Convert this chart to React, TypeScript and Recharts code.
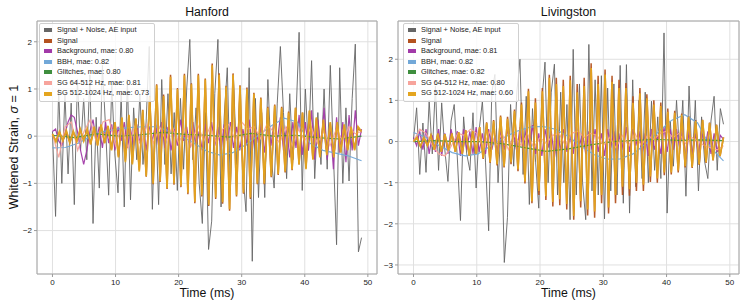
import React from 'react';
import { LineChart, Line, XAxis, YAxis, CartesianGrid, Legend, ReferenceArea } from 'recharts';

// legend labels, one per series, in drawing order
const NAMES_HANFORD = [
  'Signal + Noise, AE input',
  'Signal',
  'Background, mae: 0.80',
  'BBH, mae: 0.82',
  'Glitches, mae: 0.80',
  'SG 64-512 Hz, mae: 0.81',
  'SG 512-1024 Hz, mae: 0.73',
];
const NAMES_LIVINGSTON = [
  'Signal + Noise, AE input',
  'Signal',
  'Background, mae: 0.81',
  'BBH, mae: 0.82',
  'Glitches, mae: 0.82',
  'SG 64-512 Hz, mae: 0.80',
  'SG 512-1024 Hz, mae: 0.60',
];
const COLORS = ['#666666', '#b4521f', '#a23aa8', '#72a8d8', '#3e8e3e', '#f7a49c', '#e4a51f'];
const WIDTHS = [1, 1.5, 1.2, 1.2, 1.2, 1.2, 1.7];

const X_TICKS = [0, 10, 20, 30, 40, 50];
const HANFORD_Y_TICKS = [-2, -1, 0, 1, 2];
const LIVINGSTON_Y_TICKS = [-3, -2, -1, 0, 1, 2];

// every series spans 0..49 ms, evenly sampled
const DURATION_MS = 49;

// ---- Hanford ----
const H_NOISY = [
  0.1, -1.7, 1.0, -1.0, 0.9, -0.8, 0.7, -1.45, 1.2, -0.3,
  0.8, -0.5, 1.3, -1.85, 0.4, -1.1, 1.5, 0.2, -1.25, 1.1,
  -0.4, -1.2, 0.9, -1.5, 1.2, -1.35, 0.6, -0.5, 0.9, -0.6,
  0.3, 1.9, -1.55, 0.6, -1.45, 1.2, -0.6, 0.9, -0.8, 0.5,
  -1.15, 0.8, -0.7, 1.0, 2.05, -0.5, 0.6, -1.0, -1.85, 0.5,
  -2.4, -1.8, 0.9, 2.05, -1.5, 0.4, 1.45, -1.15, 1.2, -0.6,
  0.9, -0.8, -1.6, 1.45, -2.65, 0.8, -1.3, 0.5, -1.3, 1.2,
  -0.4, -1.1, 0.7, 1.9, 0.5, -0.9, 0.9, -0.5, 0.4, 2.2,
  -1.15, 1.0, -0.3, 1.6, -0.9, 0.5, -0.6, 1.0, -0.7, 1.5,
  -0.4, -2.3, 1.45, -1.0, 0.6, -0.95, 0.8, 1.95, -2.45, -2.15,
];
const H_SIGNAL = [
  0.04, -0.1, 0.08, -0.09, 0.1, -0.13, 0.09, -0.1, 0.13, -0.09,
  0.14, -0.16, 0.18, -0.19, 0.23, -0.14, 0.21, -0.28, 0.29, -0.43,
  0.38, -0.52, 0.44, -0.58, 0.37, -0.72, 0.56, -0.86, 0.85, -1.02,
  1.1, -0.97, 0.88, -1.12, 1.3, -1.03, 1.02, -1.08, 1.32, -1.23,
  1.12, -1.42, 1.32, -1.28, 1.22, -1.48, 1.54, -1.33, 1.33, -1.43,
  1.07, -1.58, 1.33, -1.28, 1.08, -1.22, 1.03, -1.33, 0.92, -1.02,
  0.82, -1.02, 0.62, -0.87, 0.67, -0.82, 0.62, -0.77, 0.52, -0.72,
  0.6, -0.6, 0.5, -0.68, 0.53, -0.48, 0.38, -0.43, 0.33, -0.38,
  0.28, -0.42, 0.28, -0.33, 0.23, -0.28, 0.18, -0.28, 0.18, 0.08,
];
const H_BACKGROUND = [
  0.1, 0.15, -0.1, -0.2, 0.05, 0.3, 0.45, 0.4, 0.1, -0.3,
  -0.6, -0.3, 0.1, 0.35, -0.1, 0.2, -0.25, 0.3, -0.15, 0.25,
  -0.3, 0.2, -0.1, 0.3, -0.25, 0.15, -0.2, 0.25, -0.15, 0.3,
  -0.3, 0.2, -0.1, 0.25, -0.2, 0.3, -0.25, 0.2, -0.3, 0.15,
  -0.2, 0.35, -0.1, 0.2, -0.25, 0.3, -0.2, 0.1, -0.3, 0.25,
  -0.15, 0.3, -0.2, 0.2, -0.3, 0.25, -0.1, 0.3, -0.25, 0.2,
  -0.3, 0.15, -0.2, 0.35, -0.3, 0.2, -0.15, 0.3, -0.35, 0.25,
  -0.2, 0.35, -0.1, 0.4, -0.3, 0.2, -0.45, 0.3, -0.25, 0.45,
  -0.4, 0.3, -0.3, 0.55, -0.5, 0.35, -0.3, 0.6, -0.5, 0.2,
  -0.7, 0.4, -0.35, 0.3, -0.55, 0.45, -0.3, 0.55, -0.2, 0.15,
];
const H_BBH = [
  -0.25, -0.24, -0.15, 0.0, 0.1, 0.15, 0.18, 0.2, 0.2, 0.12,
  0.0, -0.15, -0.32, -0.4, -0.35, -0.18, 0.02, 0.22, 0.38, 0.3,
  -0.15, -0.3, -0.36, -0.42, -0.52,
];
const H_GLITCHES = [0.02, -0.03, 0.05, 0.0, 0.03, 0.08, 0.04, 0.02, -0.02, 0.06, 0.0, 0.02, -0.03, -0.06, 0.0];
const H_SG_LOW = [
  0.05, -0.45, 0.2, 0.3, -0.3, 0.1, 0.35, -0.15, 0.3, 0.35,
  -0.2, 0.25, -0.25, 0.2, -0.2, 0.25, -0.15, 0.2, -0.1, 0.2,
  -0.15, 0.15, -0.2, 0.25, -0.1, 0.2, -0.15, 0.15, 0.25, -0.1,
  0.3, 0.15, 0.2, -0.05, 0.25, 0.1, -0.15, 0.2, -0.2, 0.15,
  -0.1, 0.2, -0.15, 0.1, -0.2, 0.15, -0.1, 0.2, 0.05, 0.1,
];
const H_SG_HIGH = [
  0.05, -0.12, 0.1, -0.1, 0.12, -0.15, 0.1, -0.12, 0.15, -0.1,
  0.15, -0.18, 0.2, -0.2, 0.25, -0.15, 0.22, -0.3, 0.3, -0.45,
  0.4, -0.55, 0.45, -0.6, 0.38, -0.75, 0.55, -0.85, 0.83, -1.0,
  1.08, -0.95, 0.85, -1.1, 1.26, -1.0, 1.0, -1.05, 1.29, -1.2,
  1.1, -1.39, 1.29, -1.25, 1.2, -1.45, 1.5, -1.3, 1.3, -1.4,
  1.05, -1.55, 1.3, -1.25, 1.05, -1.2, 1.0, -1.3, 0.9, -1.0,
  0.8, -1.0, 0.6, -0.85, 0.65, -0.8, 0.6, -0.75, 0.5, -0.7,
  0.6, -0.6, 0.5, -0.7, 0.55, -0.5, 0.4, -0.45, 0.35, -0.4,
  0.3, -0.45, 0.3, -0.35, 0.25, -0.3, 0.2, -0.3, 0.2, 0.1,
];

// ---- Livingston ----
const L_NOISY = [
  0.05, 0.82, -0.8, 0.45, -0.75, 1.0, -0.3, 1.35, -0.7, 0.94,
  -0.2, -0.97, 0.5, 0.9, -0.4, -1.92, 0.6, -0.3, -0.7, 0.7,
  -1.13, 0.3, 0.98, -0.5, -2.17, 1.2, 1.63, -1.0, 0.4, -2.94,
  -1.85, 0.9, -0.6, 1.2, 2.0, -0.8, 1.1, -1.53, 0.8, -0.5,
  -1.62, 1.0, 1.93, -1.0, 1.2, 1.88, -1.3, 1.2, -1.0, 0.9,
  -1.9, 2.24, -1.3, 1.4, -1.0, -1.9, 2.36, -1.2, 1.5, -1.3,
  1.6, -1.88, 1.3, -1.2, 1.4, -1.3, 1.85, -1.5, 1.87, -1.74,
  1.5, -1.1, 1.0, -0.9, 1.2, -1.0, 0.98, -0.7, 0.6, -0.9,
  2.64, -1.74, 0.5, -0.6, 1.0, -0.3, 1.0, -1.33, 1.35, -0.6,
  1.0, -1.2, 0.6, -0.5, -0.9, 0.5, 1.1, -0.7, 0.8, 0.42,
];
const L_SIGNAL = [
  0.0, 0.1, -0.12, 0.1, -0.1, 0.15, -0.2, 0.2, -0.25, 0.18,
  -0.22, 0.2, -0.25, 0.22, -0.3, 0.27, -0.35, 0.25, -0.3, 0.35,
  -0.42, 0.47, -0.52, 0.52, -0.58, 0.63, -0.63, 0.6, -0.55, 0.78,
  -0.72, 0.95, -1.02, 1.28, -1.5, 1.05, -1.3, 1.3, -1.42, 1.62,
  -1.58, 1.55, -1.55, 1.5, -1.65, 1.6, -1.9, 1.4, -1.6, 1.55,
  -1.8, 1.9, -1.85, 1.6, -1.5, 1.75, -1.75, 1.6, -1.5, 1.5,
  -1.3, 1.42, -1.32, 1.1, -1.2, 1.3, -1.2, 1.15, -0.98, 1.0,
  -1.0, 0.95, -0.82, 0.8, -0.8, 0.75, -0.75, 0.68, -0.63, 0.62,
  -0.64, 0.52, -0.57, 0.53, -0.52, 0.46, -0.46, 0.41, -0.36, 0.1,
];
const L_BACKGROUND = [
  0.1, -0.1, 0.25, -0.2, 0.3, -0.3, 0.15, -0.25, 0.3, -0.35,
  0.2, -0.3, 0.3, -0.1, 0.25, -0.35, 0.3, -0.2, 0.25, -0.3,
  0.35, -0.25, 0.2, -0.3, 0.3, -0.2, 0.15, -0.3, 0.25, -0.2,
  0.3, -0.15, 0.2, -0.25, 0.35, -0.2, 0.3, -0.1, 0.4, -0.3,
  0.2, -0.35, 0.3, -0.15, 0.25, -0.4, 0.2, -0.2, 0.3, -0.25,
  0.15, -0.3, 0.35, -0.1, 0.2, -0.3, 0.25, -0.2, 0.3, -0.25,
  0.2, -0.35, 0.3, -0.15, 0.25, -0.3, 0.2, -0.2, 0.35, -0.25,
  0.3, -0.1, 0.25, -0.3, 0.2, -0.35, 0.3, -0.2, 0.15, -0.3,
  0.35, -0.25, 0.3, -0.2, 0.3, -0.15, 0.3, -0.43, 0.25, -0.3,
  0.2, -0.35, 0.3, -0.2, 0.25, -0.3, 0.2, -0.25, 0.15, 0.05,
];
const L_BBH = [
  0.22, 0.1, -0.1, -0.27, -0.35, -0.3, -0.1, 0.1, 0.25, 0.35,
  0.37, 0.3, 0.12, -0.12, -0.32, -0.43, -0.42, -0.3, -0.05, 0.25,
  0.52, 0.65, 0.45, -0.15, -0.47,
];
const L_GLITCHES = [0.0, 0.02, 0.0, 0.0, -0.05, -0.15, -0.24, -0.18, -0.08, 0.0, 0.03, 0.05, 0.03, 0.04, 0.02];
const L_SG_LOW = [
  0.0, 0.3, 0.2, -0.1, -0.3, -0.35, -0.1, 0.2, 0.15, 0.3,
  0.2, -0.15, 0.25, -0.1, 0.2, -0.2, 0.15, -0.1, 0.2, -0.15,
  0.1, -0.05, 0.15, 0.2, -0.1, 0.2, 0.25, 0.1, 0.2, 0.15,
  -0.1, 0.1, -0.15, 0.15, -0.1, 0.2, -0.1, 0.15, 0.05, 0.2,
  0.25, 0.1, 0.2, -0.05, 0.1, 0.0, -0.1, -0.15, -0.2, -0.1,
];
const L_SG_HIGH = [
  0.0, 0.1, -0.12, 0.1, -0.1, 0.15, -0.2, 0.2, -0.25, 0.18,
  -0.22, 0.2, -0.25, 0.22, -0.3, 0.27, -0.35, 0.25, -0.3, 0.35,
  -0.4, 0.45, -0.5, 0.5, -0.55, 0.6, -0.6, 0.55, -0.5, 0.74,
  -0.67, 0.9, -0.97, 1.22, -1.45, 0.95, -1.2, 1.22, -1.33, 1.55,
  -1.47, 1.4, -1.4, 1.35, -1.52, 1.49, -1.81, 1.2, -1.45, 1.35,
  -1.65, 1.79, -1.7, 1.4, -1.3, 1.63, -1.6, 1.45, -1.3, 1.3,
  -1.1, 1.3, -1.16, 0.94, -1.0, 1.17, -1.05, 1.05, -0.85, 0.9,
  -0.9, 0.86, -0.75, 0.72, -0.75, 0.7, -0.7, 0.65, -0.6, 0.6,
  -0.62, 0.5, -0.55, 0.52, -0.5, 0.45, -0.45, 0.4, -0.35, 0.1,
];

const toPoints = (vals: number[]) =>
  vals.map((v, i) => ({ t: (i * DURATION_MS) / (vals.length - 1), v }));

const fmtTick = (v: number) => (v < 0 ? '\u2212' + Math.abs(v) : String(v));

const FONT = '"Liberation Sans", Arial, Helvetica, sans-serif';
const X_DOMAIN: [number, number] = [-2.45, 51.45];

interface PanelProps {
  left: number;
  width: number;
  marginLeft: number;
  marginRight: number;
  yAxisWidth: number;
  title: string;
  names: string[];
  series: number[][];
  yDomain: [number, number];
  yTicks: number[];
  legendLeft: number;
}

const Panel: React.FC<PanelProps> = ({
  left, width, marginLeft, marginRight, yAxisWidth, title, names, series, yDomain, yTicks, legendLeft,
}) => {
  const plotLeft = marginLeft + yAxisWidth;
  const plotWidth = width - plotLeft - marginRight;

  const renderLegend = () => (
    <div
      style={{
        background: 'rgba(255,255,255,0.82)',
        border: '1px solid #cfcfcf',
        borderRadius: 2,
        padding: '1px 5px 2px 4px',
        fontSize: 7.4,
        color: '#222',
        lineHeight: '10.55px',
        whiteSpace: 'nowrap',
      }}
    >
      {names.map((n, k) => (
        <div key={n} style={{ display: 'flex', alignItems: 'center' }}>
          <span style={{ display: 'inline-block', width: 8, height: 4, background: COLORS[k], marginRight: 5 }} />
          <span>{n}</span>
        </div>
      ))}
    </div>
  );

  return (
    <div style={{ position: 'absolute', left, top: 0, width, height: 308 }}>
      <div
        style={{
          position: 'absolute', left: plotLeft, width: plotWidth, top: 5,
          textAlign: 'center', fontSize: 12.3, lineHeight: '14px', color: '#111',
        }}
      >
        {title}
      </div>
      <LineChart width={width} height={308} margin={{ top: 21, right: marginRight, bottom: 14, left: marginLeft }}>
        <CartesianGrid stroke="#e0e0e0" strokeWidth={1} />
        <XAxis
          type="number"
          dataKey="t"
          domain={X_DOMAIN}
          ticks={X_TICKS}
          allowDataOverflow
          height={20}
          tickSize={3}
          tickMargin={2}
          axisLine={false}
          tickLine={{ stroke: '#9a9a9a' }}
          tick={{ fontSize: 8, fill: '#222' }}
          tickFormatter={fmtTick}
        />
        <YAxis
          type="number"
          domain={yDomain}
          ticks={yTicks}
          allowDataOverflow
          width={yAxisWidth}
          tickSize={3}
          tickMargin={2}
          axisLine={false}
          tickLine={{ stroke: '#9a9a9a' }}
          tick={{ fontSize: 8, fill: '#222' }}
          tickFormatter={fmtTick}
        />
        {series.map((vals, k) => (
          <Line
            key={names[k]}
            name={names[k]}
            data={toPoints(vals)}
            dataKey="v"
            type="linear"
            stroke={COLORS[k]}
            strokeWidth={WIDTHS[k]}
            strokeOpacity={k === 0 ? 0.9 : 0.95}
            dot={false}
            activeDot={false}
            isAnimationActive={false}
          />
        ))}
        <ReferenceArea
          x1={X_DOMAIN[0]}
          x2={X_DOMAIN[1]}
          y1={yDomain[0]}
          y2={yDomain[1]}
          fill="none"
          stroke="#a6a6a6"
          strokeWidth={1}
          ifOverflow="visible"
        />
        <Legend
          layout="horizontal"
          verticalAlign="middle"
          align="center"
          content={renderLegend}
          wrapperStyle={{ left: legendLeft, top: 23, width: 'auto', height: 'auto' }}
        />
      </LineChart>
      <div
        style={{
          position: 'absolute', left: plotLeft, width: plotWidth, top: 286,
          textAlign: 'center', fontSize: 12.3, lineHeight: '14px', color: '#111',
        }}
      >
        Time (ms)
      </div>
    </div>
  );
};

export default function App() {
  return (
    <div
      style={{
        position: 'absolute', left: 0, top: 0, width: 747, height: 308,
        background: '#fff', fontFamily: FONT, overflow: 'hidden',
      }}
    >
      <div
        style={{
          position: 'absolute', left: 14 - 80, top: 147 - 8, width: 160, height: 16,
          transform: 'rotate(-90deg)', textAlign: 'center', fontSize: 12.5,
          lineHeight: '16px', color: '#111', whiteSpace: 'nowrap',
        }}
      >
        Whitened Strain, <i>σ</i> = 1
      </div>
      <Panel
        left={0}
        width={380}
        marginLeft={7}
        marginRight={3}
        yAxisWidth={30}
        title="Hanford"
        names={NAMES_HANFORD}
        series={[H_NOISY, H_SIGNAL, H_BACKGROUND, H_BBH, H_GLITCHES, H_SG_LOW, H_SG_HIGH]}
        yDomain={[-2.92, 2.44]}
        yTicks={HANFORD_Y_TICKS}
        legendLeft={39}
      />
      <Panel
        left={370}
        width={377}
        marginLeft={6}
        marginRight={8}
        yAxisWidth={22}
        title="Livingston"
        names={NAMES_LIVINGSTON}
        series={[L_NOISY, L_SIGNAL, L_BACKGROUND, L_BBH, L_GLITCHES, L_SG_LOW, L_SG_HIGH]}
        yDomain={[-3.22, 2.93]}
        yTicks={LIVINGSTON_Y_TICKS}
        legendLeft={33}
      />
    </div>
  );
}
